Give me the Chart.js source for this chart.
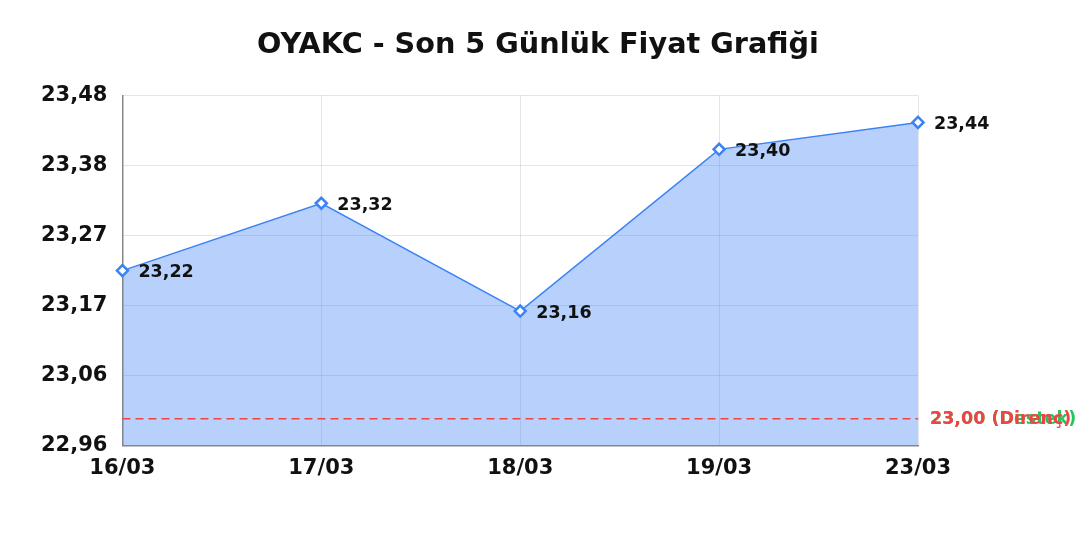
<!DOCTYPE html>
<html>
<head>
<meta charset="utf-8">
<script src="https://cdn.jsdelivr.net/npm/chart.js@4.4.1/dist/chart.umd.min.js"></script>
<style>
html,body{margin:0;padding:0;background:#fff;}
#wrap{width:1080px;height:540px;}
</style>
</head>
<body>
<div id="wrap"><canvas id="c" width="1080" height="540"></canvas></div>
<script>
const titleText = 'OYAKC - Son 5 Günlük Fiyat Grafiği';
const dates = ['16/03', '17/03', '18/03', '19/03', '23/03'];
const prices = [23.22, 23.32, 23.16, 23.40, 23.44];
const yTicks = [22.96, 23.064, 23.168, 23.272, 23.376, 23.48];
const supportLevel = 23.00;
const resistanceLevel = 23.00;

const FONT = '"DejaVu Sans", Verdana, sans-serif';
const fmt = v => v.toFixed(2).replace('.', ',');

const refLines = {
  id: 'refLines',
  afterDatasetsDraw(chart) {
    const {ctx, chartArea: a, scales: {y}} = chart;
    const lines = [
      {v: supportLevel, color: '#22c55e', text: fmt(supportLevel) + ' (Destek)', line: false},
      {v: resistanceLevel, color: '#ef4444', text: fmt(resistanceLevel) + ' (Direnç)', line: true}
    ];
    lines.forEach(l => {
      const py = y.getPixelForValue(l.v);
      ctx.save();
      if (l.line) {
        ctx.strokeStyle = l.color;
        ctx.lineWidth = 1.5;
        ctx.setLineDash([8, 5]);
        ctx.beginPath();
        ctx.moveTo(a.left, py);
        ctx.lineTo(a.right, py);
        ctx.stroke();
        ctx.setLineDash([]);
      }
      ctx.fillStyle = l.color;
      ctx.font = 'bold 17.5px ' + FONT;
      ctx.textAlign = 'left';
      ctx.textBaseline = 'middle';
      ctx.fillText(l.text, a.right + 12, py + 1);
      ctx.restore();
    });
  }
};

const pointLabels = {
  id: 'pointLabels',
  afterDatasetsDraw(chart) {
    const {ctx} = chart;
    const meta = chart.getDatasetMeta(0);
    ctx.save();
    ctx.font = 'bold 17.5px ' + FONT;
    ctx.fillStyle = '#111';
    ctx.textAlign = 'left';
    ctx.textBaseline = 'middle';
    meta.data.forEach((pt, i) => {
      ctx.fillText(fmt(prices[i]), pt.x + 16, pt.y + 2);
    });
    ctx.restore();
  }
};

function draw() {
  new Chart(document.getElementById('c'), {
    type: 'line',
    data: {
      labels: dates,
      datasets: [{
        data: prices,
        borderColor: '#3b82f6',
        backgroundColor: 'rgba(59,130,246,0.37)',
        borderWidth: 1.5,
        fill: 'start',
        tension: 0,
        pointStyle: 'rectRot',
        pointRadius: 5.5,
        pointBorderWidth: 2.5,
        pointBackgroundColor: '#fff',
        pointBorderColor: '#3b82f6'
      }]
    },
    options: {
      responsive: false,
      devicePixelRatio: 1,
      animation: false,
      layout: {padding: {left: 26, right: 30, top: 20, bottom: 48}},
      plugins: {
        legend: {display: false},
        tooltip: {enabled: false},
        title: {
          display: true,
          text: titleText,
          color: '#111',
          font: {family: FONT, size: 28.7, weight: 'bold'},
          padding: {top: 8, bottom: 33}
        }
      },
      scales: {
        x: {
          grid: {color: 'rgba(0,0,0,0.1)', drawTicks: false},
          border: {color: '#888', width: 1.5},
          ticks: {color: '#111', font: {family: FONT, size: 21, weight: 'bold'}, padding: 10.5}
        },
        y: {
          min: 22.96,
          max: 23.48,
          afterBuildTicks: s => { s.ticks = yTicks.map(v => ({value: v})); },
          grid: {color: 'rgba(0,0,0,0.1)', drawTicks: false},
          border: {color: '#888', width: 1.5},
          ticks: {color: '#111', font: {family: FONT, size: 21, weight: 'bold'}, padding: 15,
            callback: v => fmt(v)}
        },
        yRight: {
          position: 'right',
          display: true,
          min: 22.96,
          max: 23.48,
          grid: {drawOnChartArea: false, drawTicks: false, display: false},
          border: {display: false},
          ticks: {display: false},
          afterFit: s => { s.width = 1080 - 918 - 30; }
        }
      }
    },
    plugins: [refLines, pointLabels]
  });
}
Promise.all([
  document.fonts.load('bold 28px "DejaVu Sans"'),
  document.fonts.load('bold 20px "DejaVu Sans"')
]).then(draw, draw);
</script>
</body>
</html>
